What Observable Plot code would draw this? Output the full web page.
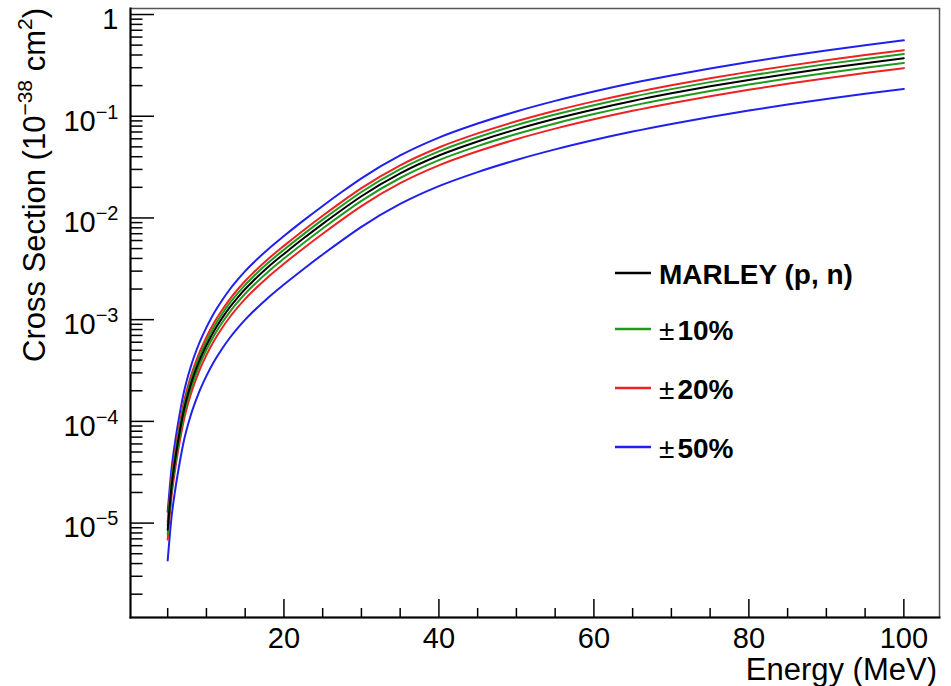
<!DOCTYPE html>
<html>
<head>
<meta charset="utf-8">
<script src="https://cdn.jsdelivr.net/npm/d3@7"></script>
<script src="https://cdn.jsdelivr.net/npm/@observablehq/plot@0.6"></script>
<style>
  body { margin: 0; background: #fff; }
  svg { font-family: "Liberation Sans", Arial, Helvetica, sans-serif; }
</style>
</head>
<body>
<div id="chart"></div>
<script>
// ---- data ----
const energy = [5, 5.5, 6, 6.5, 7, 8, 9, 10, 11, 12, 13, 14, 15, 16, 18, 20, 22.5, 25, 27.5, 30,
                35, 40, 45, 50, 55, 60, 65, 70, 75, 80, 85, 90, 95, 100];
const marley = [8.6e-6, 2.3e-5, 4.4e-5, 7.5e-5, 1.2e-4, 2.33e-4, 3.8e-4, 5.6e-4, 7.8e-4, 1.03e-3,
                1.32e-3, 1.64e-3, 2.0e-3, 2.39e-3, 3.31e-3, 4.43e-3, 6.27e-3, 8.75e-3, 0.01205, 0.01635,
                0.02745, 0.0411, 0.0565, 0.0743, 0.0944, 0.1167, 0.1413, 0.1679, 0.1968, 0.2275, 0.2606, 0.2958, 0.3327, 0.3715];
// variations given in the legend: ± fraction of the MARLEY curve
const variationPercent = [10, 20, 50];
const variationColors = ["#1f9a1f", "#ee2222", "#2020ee"];
const centralLabel = "MARLEY (p, n)";
const centralColor = "#000000";

const xMajorTicks = [20, 40, 60, 80, 100];
const xMinorTicks = [5, 10, 15, 25, 30, 35, 45, 50, 55, 65, 70, 75, 85, 90, 95];
const yMajorExponents = [0, -1, -2, -3, -4, -5];
const yMinorMantissas = [2, 3, 4, 5, 6, 7, 8, 9];
const yMinorExponents = [-6, -5, -4, -3, -2, -1];
const xDomain = [0.2, 104.6];
const yDomain = [1.18e-6, 1.146];

const xTitle = "Energy (MeV)";

// ---- build table ----
const rows = [];
variationPercent.slice().reverse().forEach((p, ri) => {
  const idx = variationPercent.length - 1 - ri;
  const color = variationColors[idx];
  ["up", "down"].forEach(side => {
    const f = side === "up" ? 1 + p / 100 : 1 - p / 100;
    energy.forEach((e, i) => rows.push({energy: e, sigma: marley[i] * f, key: p + side, color}));
  });
});
energy.forEach((e, i) => rows.push({energy: e, sigma: marley[i], key: "central", color: centralColor}));

const yMajorTicks = yMajorExponents.map(e => Math.pow(10, e));
const yMinorTicks = yMinorExponents.flatMap(e => yMinorMantissas.map(m => m * Math.pow(10, e)));
const fmtY = v => {
  const e = Math.round(Math.log10(v));
  return e === 0 ? "1" : "10^\u2212" + (-e);
};

const FONT = '"Liberation Sans", Arial, Helvetica, sans-serif';
const plot = Plot.plot({
  width: 951,
  height: 686,
  marginLeft: 130,
  marginRight: 12,
  marginTop: 8,
  marginBottom: 69,
  style: {fontFamily: FONT, background: "white", color: "black", overflow: "visible"},
  x: {domain: xDomain, label: null},
  y: {type: "log", domain: yDomain, label: null},
  color: {type: "identity"},
  marks: [
    Plot.line(rows, {x: "energy", y: "sigma", z: "key", stroke: "color", strokeWidth: 2, curve: "monotone-x"}),
    Plot.frame({stroke: "#555", strokeWidth: 1.5}),
    Plot.frame({anchor: "left", stroke: "black", strokeWidth: 2}),
    Plot.frame({anchor: "bottom", stroke: "black", strokeWidth: 2}),
    Plot.axisY({ticks: yMajorTicks, tickSize: -24, fill: "none", stroke: "black", strokeWidth: 1.5, label: null}),
    Plot.axisY({ticks: yMinorTicks, tickSize: -12.5, fill: "none", stroke: "black", strokeWidth: 1.5, label: null}),
    Plot.axisY({ticks: yMajorTicks, tickSize: 0, tickPadding: 12, tickFormat: fmtY, fontSize: 29, dy: 5, label: null}),
    Plot.axisX({ticks: xMajorTicks, tickSize: -18, fill: "none", stroke: "black", strokeWidth: 1.5, label: null}),
    Plot.axisX({ticks: xMinorTicks, tickSize: -9, fill: "none", stroke: "black", strokeWidth: 1.5, label: null}),
    Plot.axisX({ticks: xMajorTicks, tickSize: 0, tickPadding: 10, fontSize: 29, tickFormat: d => String(d), label: null})
  ]
});
document.getElementById("chart").appendChild(plot);

const svg = d3.select(plot);

// superscripts on y tick labels
svg.selectAll('g[aria-label="y-axis tick label"] text').each(function () {
  const t = this.textContent;
  if (t.includes("^")) {
    const [base, sup] = t.split("^");
    const sel = d3.select(this);
    sel.text(base);
    sel.append("tspan").attr("dy", -12).attr("font-size", 20).text(sup);
  }
});

// y title (rotated, right-aligned to top)
const yt = svg.append("text")
  .attr("transform", "translate(45,8) rotate(-90)")
  .attr("text-anchor", "end")
  .attr("font-size", 31)
  .attr("fill", "black");
yt.append("tspan").text("Cross Section (10");
yt.append("tspan").attr("dy", -13).attr("font-size", 21).text("\u221238");
yt.append("tspan").attr("dy", 13).text(" cm");
yt.append("tspan").attr("dy", -13).attr("font-size", 21).text("2");
yt.append("tspan").attr("dy", 13).text(")");

// x title
svg.append("text")
  .attr("x", 937).attr("y", 680)
  .attr("text-anchor", "end")
  .attr("font-size", 31)
  .attr("fill", "black")
  .text(xTitle);

// legend
const legendItems = [{label: centralLabel, color: centralColor, pm: false}]
  .concat(variationPercent.map((p, i) => ({label: p + "%", color: variationColors[i], pm: true})));
const legendY = [273, 329, 388, 447];
const lg = svg.append("g").attr("text-anchor", "start");
legendItems.forEach((it, i) => {
  const y = legendY[i];
  lg.append("line").attr("x1", 615).attr("x2", 651).attr("y1", y).attr("y2", y)
    .attr("stroke", it.color).attr("stroke-width", 2.5);
  const t = lg.append("text").attr("x", 659).attr("y", y + 11).attr("font-size", 28)
    .attr("text-anchor", "start").attr("fill", "black");
  if (it.pm) {
    t.append("tspan").attr("font-weight", "normal").text("\u00b1");
    t.append("tspan").attr("dx", 3).attr("font-weight", "bold").text(it.label);
  } else {
    t.attr("font-weight", "bold").text(it.label);
  }
});
</script>
</body>
</html>
